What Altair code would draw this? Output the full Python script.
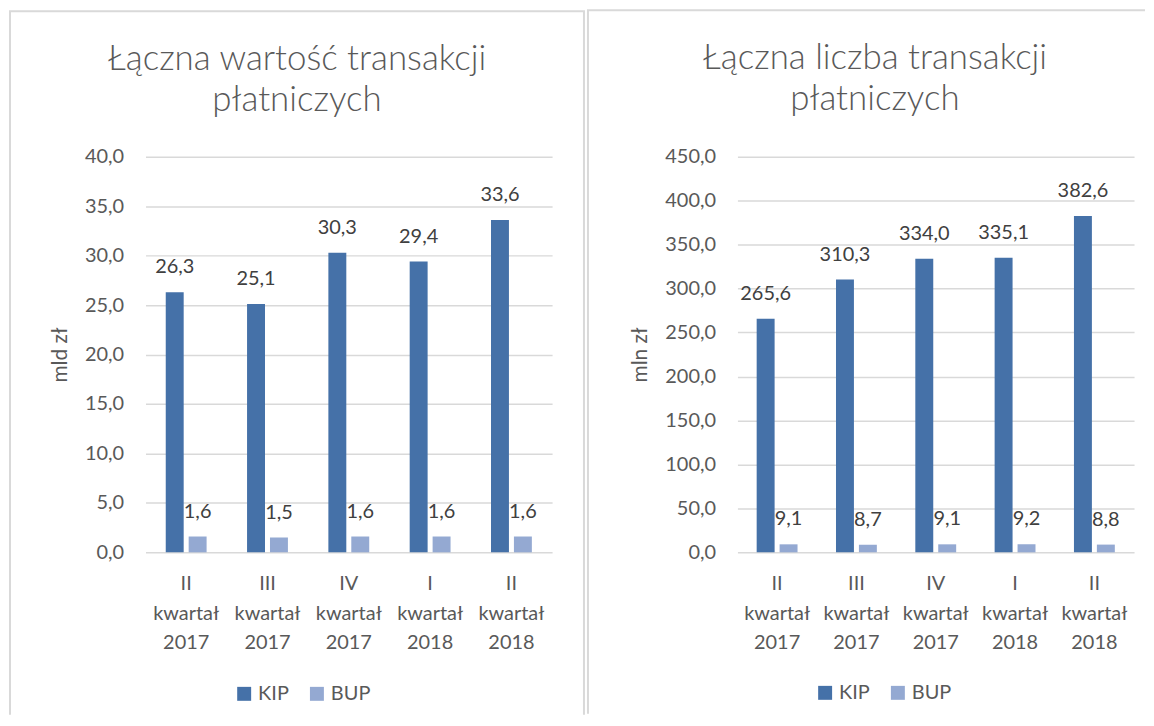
import altair as alt
import pandas as pd

categories = ["II kwartał 2017", "III kwartał 2017", "IV kwartał 2017", "I kwartał 2018", "II kwartał 2018"]
series = ["KIP", "BUP"]
value_kip = [26.3, 25.1, 30.3, 29.4, 33.6]
value_bup = [1.6, 1.5, 1.6, 1.6, 1.6]
count_kip = [265.6, 310.3, 334.0, 335.1, 382.6]
count_bup = [9.1, 8.7, 9.1, 9.2, 8.8]
title_value = ["Łączna wartość transakcji", "płatniczych"]
title_count = ["Łączna liczba transakcji", "płatniczych"]
ytitle_value = "mld zł"
ytitle_count = "mln zł"
ticks_value = [0, 5, 10, 15, 20, 25, 30, 35, 40]
ticks_count = [0, 50, 100, 150, 200, 250, 300, 350, 400, 450]

FONT = "Lato"
KIP_C = "#4571A8"
BUP_C = "#94A9D2"
GRID = "#D9D9D9"
TXT = "#595959"


def make_df(kip, bup):
    rows = []
    for c, k, b in zip(categories, kip, bup):
        rows.append({"kat": c, "seria": "KIP", "v": k})
        rows.append({"kat": c, "seria": "BUP", "v": b})
    return pd.DataFrame(rows)


def panel(df, title, ytitle, ticks, W, H, pin, bleft, bright, btop, bbottom, legx, legy,
          tdx, tdy, ytpad, right_border):
    fmt = "replace(format(datum.value, '.1f'), '.', ',')"
    x = alt.X("kat:N", sort=categories,
              scale=alt.Scale(paddingInner=pin, paddingOuter=pin / 2),
              axis=alt.Axis(title=None, labelExpr="split(datum.value, ' ')", labelAngle=0,
                            ticks=False, domain=False, labelPadding=31, labelFont=FONT,
                            labelFontSize=20, labelColor=TXT, labelLineHeight=30,
                            labelBaseline="middle"))
    xo = alt.XOffset("seria:N", sort=series, scale=alt.Scale(paddingInner=0.2174, paddingOuter=0))
    y = alt.Y("v:Q", scale=alt.Scale(domain=[ticks[0], ticks[-1]], nice=False),
              axis=alt.Axis(title=ytitle, values=ticks, labelExpr=fmt, grid=True, gridColor=GRID,
                            gridWidth=1.5, domain=False, ticks=False, labelPadding=22,
                            labelFont=FONT, labelFontSize=20, labelColor=TXT,
                            titleFont=FONT, titleFontSize=21, titleColor=TXT,
                            titleFontWeight="normal", titlePadding=ytpad))
    color = alt.Color("seria:N", sort=series,
                      scale=alt.Scale(domain=series, range=[KIP_C, BUP_C]),
                      legend=alt.Legend(title=None, orient="none", legendX=legx, legendY=legy,
                                        direction="horizontal", symbolType="square",
                                        symbolSize=196, symbolStrokeWidth=0, labelFont=FONT,
                                        labelFontSize=20, labelColor=TXT, labelOffset=4,
                                        columnPadding=18, padding=0))
    base = alt.Chart(df)
    bars = base.mark_bar().encode(x=x, xOffset=xo, y=y, color=color)
    labels = base.transform_calculate(
        lab="replace(format(datum.v, '.1f'), '.', ',')"
    ).mark_text(baseline="middle", dy=-25, font=FONT, fontSize=20, color="#404040").encode(
        x=x, xOffset=xo, y=y, text="lab:N")
    frame = alt.Chart(pd.DataFrame({"a": [0]}))
    top = frame.mark_rule(color=GRID, strokeWidth=2).encode(
        x=alt.value(bleft - 1), x2=alt.value(bright + 1), y=alt.value(btop))
    left = frame.mark_rule(color=GRID, strokeWidth=2).encode(
        x=alt.value(bleft), y=alt.value(btop), y2=alt.value(bbottom))
    layers = [top, left]
    if right_border:
        layers.append(frame.mark_rule(color=GRID, strokeWidth=2).encode(
            x=alt.value(bright), y=alt.value(btop), y2=alt.value(bbottom)))
    return alt.layer(bars, labels, *layers).properties(
        width=W, height=H,
        title=alt.TitleParams(text=title, font=FONT, fontSize=35, fontWeight=300,
                              color=TXT, lineHeight=41, frame="bounds", anchor="middle",
                              dx=tdx, dy=tdy, offset=0),
    )


left_panel = panel(make_df(value_kip, value_bup), title_value, ytitle_value, ticks_value,
                   W=408, H=397, pin=0.4975, bleft=-136, bright=440, btop=-146, bbottom=560,
                   legx=89, legy=529, tdx=0, tdy=108, ytpad=14, right_border=True)
right_panel = panel(make_df(count_kip, count_bup), title_count, ytitle_count, ticks_count,
                    W=398, H=397, pin=0.485, bleft=-150, bright=408, btop=-147, bbottom=559,
                    legx=78, legy=528, tdx=9, tdy=108, ytpad=14, right_border=False)

chart = alt.hconcat(left_panel, right_panel, spacing=0).resolve_legend(
    color="independent").resolve_scale(y="independent", x="independent").properties(
    padding=0, background="white"
).configure_view(stroke=None).configure_axis(titleFontSize=21, titleFont=FONT)

chart.save("out.html", embed_options={"renderer": "svg", "actions": False})
